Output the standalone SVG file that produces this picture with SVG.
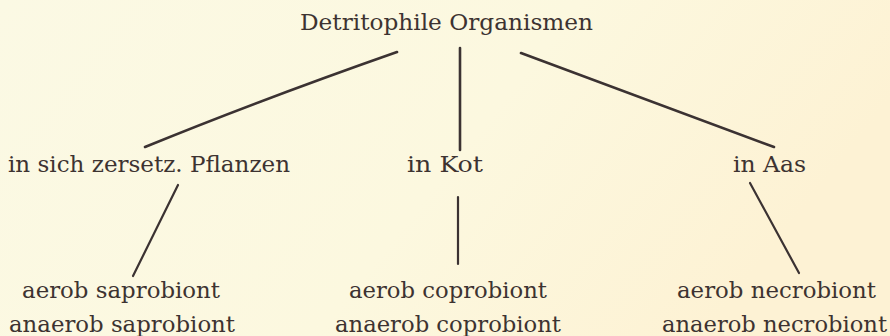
<svg xmlns="http://www.w3.org/2000/svg" width="890" height="336" viewBox="0 0 890 336">
<defs>
<linearGradient id="bg" x1="0" y1="0" x2="1" y2="0.3">
<stop offset="0" stop-color="#fbf9e4"/>
<stop offset="0.6" stop-color="#fcf8df"/>
<stop offset="1" stop-color="#fdf2d4"/>
</linearGradient>
<style>
text{font-family:"DejaVu Serif","Liberation Serif",serif;font-size:23px;fill:#3d3331;text-anchor:middle}
.c{fill:none;stroke:#3b3232;stroke-linecap:round}
.t{stroke-width:2.6}
.b{stroke-width:2.2}
</style>
</defs>
<rect width="890" height="336" fill="url(#bg)"/>
<g id="connectors">
<path class="c t" d="M397,52 Q260,100 145,147"/>
<line class="c t" x1="460" y1="48" x2="460" y2="150"/>
<line class="c t" x1="521" y1="53" x2="774" y2="147"/>
<line class="c b" x1="178" y1="185" x2="133" y2="276"/>
<line class="c b" x1="458" y1="197" x2="458" y2="264"/>
<line class="c b" x1="750" y1="183" x2="799" y2="273"/>
</g>
<g id="root"><text x="446.5" y="30" textLength="293" lengthAdjust="spacingAndGlyphs">Detritophile Organismen</text></g>
<g id="pflanzen"><text x="149" y="172" textLength="282" lengthAdjust="spacingAndGlyphs">in sich zersetz. Pflanzen</text></g>
<g id="kot"><text x="445" y="172" textLength="76" lengthAdjust="spacingAndGlyphs">in Kot</text></g>
<g id="aas"><text x="769.5" y="172" textLength="73" lengthAdjust="spacingAndGlyphs">in Aas</text></g>
<g id="saprobiont"><text x="121" y="298" textLength="198" lengthAdjust="spacingAndGlyphs">aerob saprobiont</text><text x="122" y="332" textLength="226" lengthAdjust="spacingAndGlyphs">anaerob saprobiont</text></g>
<g id="coprobiont"><text x="448" y="298" textLength="198" lengthAdjust="spacingAndGlyphs">aerob coprobiont</text><text x="448" y="332" textLength="226" lengthAdjust="spacingAndGlyphs">anaerob coprobiont</text></g>
<g id="necrobiont"><text x="776.5" y="298" textLength="199" lengthAdjust="spacingAndGlyphs">aerob necrobiont</text><text x="774.5" y="332" textLength="225" lengthAdjust="spacingAndGlyphs">anaerob necrobiont</text></g>
</svg>
